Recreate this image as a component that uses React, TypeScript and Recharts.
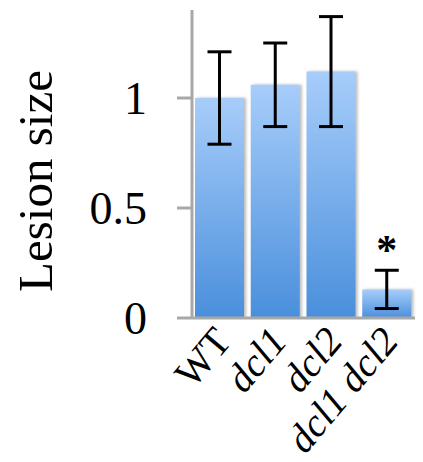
import React from "react";
import { BarChart, Bar, XAxis, YAxis, ErrorBar, LabelList, Label } from "recharts";

const categories = ["WT", "dcl1", "dcl2", "dcl1 dcl2"];
const lesionSize = [1.0, 1.06, 1.12, 0.13];
const lesionError = [0.21, 0.19, 0.25, 0.087];
const significance = ["", "", "", "*"];
const italicLabels = [false, true, true, true];
const yTicks = [0, 0.5, 1];

const data = categories.map((c, i) => ({
  name: c,
  value: lesionSize[i],
  err: lesionError[i],
  sig: significance[i],
}));

const FONT = "'Liberation Serif', 'Times New Roman', serif";

const XTick = (props: any) => {
  const { x, y, payload, index } = props;
  const italic = italicLabels[index];
  return (
    <g transform={`translate(${x + 13},${y + 16})`}>
      <text
        x={0}
        y={0}
        textAnchor="end"
        transform="rotate(-50)"
        fontFamily={FONT}
        fontSize={40}
        fontStyle={italic ? "italic" : "normal"}
        fill="#000"
      >
        {payload.value}
      </text>
    </g>
  );
};

const StarLabel = (props: any) => {
  const { x, y, width, value } = props;
  if (!value) return null;
  return (
    <text
      x={x + width / 2}
      y={y - 25}
      textAnchor="middle"
      fontFamily={FONT}
      fontSize={42}
      fontWeight="bold"
      fill="#000"
    >
      {value}
    </text>
  );
};

const YTitle = () => {
  const cx = 52;
  const cy = 181;
  return (
    <text
      x={cx}
      y={cy}
      textAnchor="middle"
      transform={`rotate(-90, ${cx}, ${cy})`}
      fontFamily={FONT}
      fontSize={49}
      fill="#000"
    >
      Lesion size
    </text>
  );
};

export default function App() {
  return (
    <div style={{ position: "absolute", left: 0, top: 0, background: "#fff" }}>
      <BarChart
        width={423}
        height={462}
        data={data}
        margin={{ top: 10, right: 8, left: 0, bottom: 0 }}
      >
        <defs>
          <linearGradient id="barGrad" x1="0" y1="0" x2="0" y2="1">
            <stop offset="0%" stopColor="#a7cdfa" />
            <stop offset="100%" stopColor="#4a8fdc" />
          </linearGradient>
          <filter id="barShadow" x="-10%" y="-10%" width="130%" height="120%">
            <feDropShadow dx="2" dy="0" stdDeviation="1.5" floodColor="#808080" floodOpacity="0.55" />
          </filter>
        </defs>
        <XAxis
          dataKey="name"
          height={144}
          interval={0}
          tickLine={false}
          axisLine={{ stroke: "#a8a8a8", strokeWidth: 3 }}
          tick={<XTick />}
        />
        <YAxis
          width={192}
          domain={[0, 1.4]}
          ticks={yTicks}
          allowDataOverflow
          tickSize={15}
          tickMargin={30}
          axisLine={{ stroke: "#a8a8a8", strokeWidth: 3 }}
          tickLine={{ stroke: "#a8a8a8", strokeWidth: 3 }}
          tick={{ fontFamily: FONT, fontSize: 46, fill: "#000" }}
          tickFormatter={(v: number) => String(v)}
        >
          <Label content={<YTitle />} />
        </YAxis>
        <Bar
          dataKey="value"
          barSize={49}
          fill="url(#barGrad)"
          filter="url(#barShadow)"
          isAnimationActive={false}
        >
          <ErrorBar dataKey="err" width={12} stroke="#000" strokeWidth={3} isAnimationActive={false} />
          <LabelList dataKey="sig" content={<StarLabel />} />
        </Bar>
      </BarChart>
    </div>
  );
}
